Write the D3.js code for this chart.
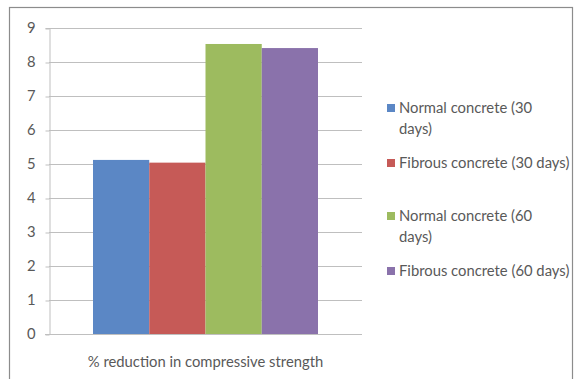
<!DOCTYPE html>
<html>
<head>
<meta charset="utf-8">
<script src="https://cdn.jsdelivr.net/npm/d3@7/dist/d3.min.js"></script>
<style>
  html, body { margin: 0; padding: 0; background: #fff; }
  svg { display: block; }
  text { font-family: Lato, "Open Sans", sans-serif; fill: #595959; }
</style>
</head>
<body>
<svg id="chart" width="574" height="379"></svg>
<script>
// Chart data
const category = "% reduction in compressive strength";
const seriesNames = [
  "Normal concrete (30 days)",
  "Fibrous concrete (30 days)",
  "Normal concrete (60 days)",
  "Fibrous concrete (60 days)"
];
const seriesValues = [5.12, 5.04, 8.53, 8.41];
const seriesColors = ["#5b87c5", "#c65a57", "#9dbb5f", "#8a72ab"];
const yTicks = [0, 1, 2, 3, 4, 5, 6, 7, 8, 9];
// Legend entries broken into display lines
const legendLines = [
  ["Normal concrete (30", "days)"],
  ["Fibrous concrete (30 days)"],
  ["Normal concrete (60", "days)"],
  ["Fibrous concrete (60 days)"]
];

const svg = d3.select("#chart");
const fontSize = "14.8px";

// Outer chart frame
svg.append("rect")
  .attr("x", 9.5).attr("y", 7.5)
  .attr("width", 563).attr("height", 400)
  .attr("fill", "none")
  .attr("stroke", "#8c8c8c")
  .attr("stroke-width", 1.2);

const plot = { left: 49, right: 362, top: 28, bottom: 334 };

const y = d3.scaleLinear().domain([0, 9]).range([plot.bottom, plot.top]);
const xBand = d3.scaleBand().domain([category])
  .range([plot.left, plot.right]).paddingInner(0).paddingOuter(0.1956);
const xSeries = d3.scaleBand().domain(seriesNames)
  .range([0, xBand.bandwidth()]).padding(0);

// Gridlines
svg.append("g")
  .selectAll("line")
  .data(yTicks.filter(d => d > 0))
  .join("line")
  .attr("x1", plot.left).attr("x2", plot.right)
  .attr("y1", d => Math.round(y(d)) + 0.5)
  .attr("y2", d => Math.round(y(d)) + 0.5)
  .attr("stroke", "#bfbfbf")
  .attr("stroke-width", 1);

// Y axis
const yAxis = d3.axisLeft(y).tickValues(yTicks).tickSize(4).tickPadding(10)
  .tickFormat(d3.format("d"));
const gy = svg.append("g")
  .attr("transform", `translate(${plot.left + 0.5},0)`)
  .call(yAxis);
gy.select(".domain").attr("stroke", "#bfbfbf");
gy.selectAll(".tick line").attr("stroke", "#bfbfbf")
  .attr("transform", "translate(0,0.5)");
gy.selectAll(".tick text")
  .style("font-size", fontSize)
  .style("font-family", "Lato, 'Open Sans', sans-serif")
  .attr("fill", "#595959");

// Bars
svg.append("g")
  .selectAll("rect")
  .data(seriesValues)
  .join("rect")
  .attr("x", (d, i) => xBand(category) + xSeries(seriesNames[i]))
  .attr("width", xSeries.bandwidth())
  .attr("y", d => y(d))
  .attr("height", d => y(0) - y(d))
  .attr("fill", (d, i) => seriesColors[i]);

// X axis baseline
svg.append("line")
  .attr("x1", plot.left - 4).attr("x2", plot.right)
  .attr("y1", plot.bottom + 0.5).attr("y2", plot.bottom + 0.5)
  .attr("stroke", "#bfbfbf");

// Category label
svg.append("text")
  .attr("x", xBand(category) + xBand.bandwidth() / 2)
  .attr("y", 367)
  .attr("text-anchor", "middle")
  .style("font-size", fontSize)
  .text(category);

// Legend
const legendY = [108, 163, 216, 271];
const legend = svg.append("g");
legendLines.forEach((lines, i) => {
  const g = legend.append("g").attr("transform", `translate(387,${legendY[i]})`);
  g.append("rect")
    .attr("x", 0).attr("y", -4)
    .attr("width", 8).attr("height", 8)
    .attr("fill", seriesColors[i]);
  lines.forEach((t, j) => {
    g.append("text")
      .attr("x", 12).attr("y", j * 21 + 5)
      .style("font-size", fontSize)
      .text(t);
  });
});
</script>
</body>
</html>
